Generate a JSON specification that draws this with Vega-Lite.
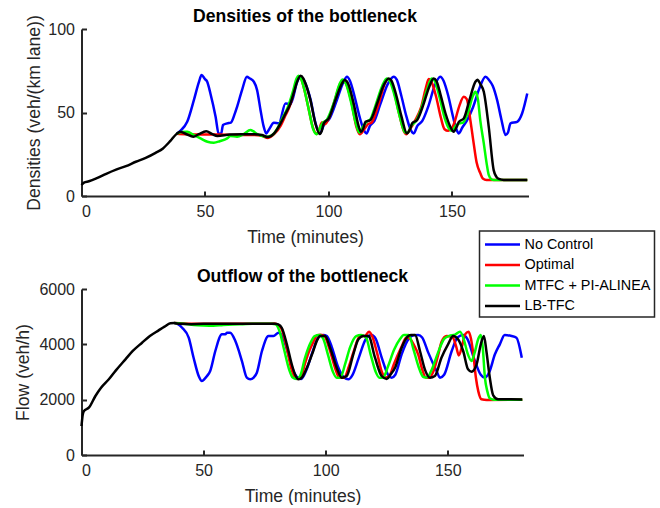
{
"$schema": "https://vega.github.io/schema/vega-lite/v6.json",
"padding": {"left": 14.5, "top": 8, "right": 0, "bottom": 0},
"datasets": {
"d": [
{"s":"N","t":38.5,"v":37.2},{"s":"N","t":40,"v":39},{"s":"N","t":42.8,"v":44.4},{"s":"N","t":45.5,"v":57.4},{"s":"N","t":47.5,"v":68},{"s":"N","t":48.6,"v":72.4},{"s":"N","t":50,"v":70},{"s":"N","t":50.9,"v":68.4},{"s":"N","t":52.2,"v":61.4},{"s":"N","t":54.3,"v":47.4},{"s":"N","t":55.5,"v":37.5},{"s":"N","t":56.5,"v":37},{"s":"N","t":57.3,"v":42.5},{"s":"N","t":59,"v":43.5},{"s":"N","t":60.5,"v":44},{"s":"N","t":62,"v":49},{"s":"N","t":63,"v":53.4},{"s":"N","t":65,"v":63.4},{"s":"N","t":67,"v":71.4},{"s":"N","t":68,"v":70.5},{"s":"N","t":69.8,"v":68.4},{"s":"N","t":71.1,"v":63.4},{"s":"N","t":72.5,"v":51.4},{"s":"N","t":73.7,"v":42},{"s":"N","t":74.8,"v":37.5},{"s":"N","t":76,"v":40},{"s":"N","t":77.9,"v":43.8},{"s":"N","t":79.9,"v":43.5},{"s":"N","t":82.6,"v":55.4},{"s":"N","t":84.6,"v":55},{"s":"N","t":87.5,"v":69},{"s":"N","t":88.7,"v":71.5},{"s":"N","t":90.5,"v":68},{"s":"N","t":92.7,"v":58},{"s":"N","t":94.7,"v":44},{"s":"N","t":96.5,"v":37.5},{"s":"N","t":98.3,"v":43},{"s":"N","t":100.3,"v":46},{"s":"N","t":103.3,"v":57},{"s":"N","t":106,"v":68},{"s":"N","t":107.5,"v":71.4},{"s":"N","t":108.7,"v":69},{"s":"N","t":110.5,"v":60},{"s":"N","t":112.5,"v":48},{"s":"N","t":114.2,"v":40},{"s":"N","t":115.4,"v":37.5},{"s":"N","t":116.8,"v":42},{"s":"N","t":118.6,"v":45},{"s":"N","t":121,"v":55},{"s":"N","t":124,"v":67},{"s":"N","t":126.4,"v":71.4},{"s":"N","t":127.7,"v":69.5},{"s":"N","t":129.5,"v":60},{"s":"N","t":131.5,"v":48},{"s":"N","t":133.2,"v":40},{"s":"N","t":134.5,"v":37.5},{"s":"N","t":136,"v":42},{"s":"N","t":138,"v":45},{"s":"N","t":140.5,"v":54},{"s":"N","t":143,"v":66},{"s":"N","t":145.3,"v":71.4},{"s":"N","t":146.6,"v":69},{"s":"N","t":148.5,"v":60},{"s":"N","t":150.5,"v":47},{"s":"N","t":151.8,"v":40},{"s":"N","t":152.8,"v":37.5},{"s":"N","t":154.2,"v":41},{"s":"N","t":156,"v":45},{"s":"N","t":158.5,"v":53},{"s":"N","t":161,"v":64},{"s":"N","t":163.6,"v":71.4},{"s":"N","t":165,"v":69.5},{"s":"N","t":166.5,"v":66},{"s":"N","t":168.3,"v":57.4},{"s":"N","t":170,"v":46},{"s":"N","t":171.7,"v":36.5},{"s":"N","t":172.7,"v":38},{"s":"N","t":173.7,"v":43.5},{"s":"N","t":176.4,"v":44.4},{"s":"N","t":178.4,"v":49.4},{"s":"N","t":180.5,"v":61.4},
{"s":"O","t":38.5,"v":37.2},{"s":"O","t":42,"v":37},{"s":"O","t":48,"v":36.8},{"s":"O","t":55,"v":36.8},{"s":"O","t":62,"v":36.5},{"s":"O","t":70,"v":36.5},{"s":"O","t":73,"v":36},{"s":"O","t":75.5,"v":34.8},{"s":"O","t":78,"v":37},{"s":"O","t":80.6,"v":42},{"s":"O","t":82.5,"v":48},{"s":"O","t":84.6,"v":55},{"s":"O","t":86.2,"v":64},{"s":"O","t":87.3,"v":69.5},{"s":"O","t":88,"v":71.5},{"s":"O","t":89,"v":70},{"s":"O","t":90.2,"v":64},{"s":"O","t":92,"v":52},{"s":"O","t":93.5,"v":42},{"s":"O","t":95.2,"v":37.2},{"s":"O","t":96.3,"v":40},{"s":"O","t":97.3,"v":44},{"s":"O","t":98.5,"v":43},{"s":"O","t":100,"v":46},{"s":"O","t":102.5,"v":57},{"s":"O","t":105,"v":68},{"s":"O","t":106,"v":69.5},{"s":"O","t":107.5,"v":66},{"s":"O","t":109.5,"v":55},{"s":"O","t":111.2,"v":42},{"s":"O","t":112.7,"v":37},{"s":"O","t":114.5,"v":40},{"s":"O","t":116,"v":43},{"s":"O","t":117.5,"v":44},{"s":"O","t":120.5,"v":56},{"s":"O","t":123,"v":68},{"s":"O","t":124,"v":70},{"s":"O","t":125,"v":69},{"s":"O","t":126.5,"v":63},{"s":"O","t":128.5,"v":50},{"s":"O","t":130.5,"v":39},{"s":"O","t":131.5,"v":37},{"s":"O","t":133,"v":40},{"s":"O","t":135,"v":45},{"s":"O","t":137.5,"v":53},{"s":"O","t":139.5,"v":65},{"s":"O","t":140.6,"v":70},{"s":"O","t":141.5,"v":69},{"s":"O","t":143.5,"v":60},{"s":"O","t":145.5,"v":47},{"s":"O","t":147,"v":40},{"s":"O","t":148.5,"v":39},{"s":"O","t":150,"v":40.5},{"s":"O","t":151,"v":44},{"s":"O","t":153,"v":54},{"s":"O","t":154.8,"v":59.4},{"s":"O","t":156,"v":58},{"s":"O","t":157.5,"v":45},{"s":"O","t":158.8,"v":31.5},{"s":"O","t":160,"v":20},{"s":"O","t":161.5,"v":13.6},{"s":"O","t":162.5,"v":10.5},{"s":"O","t":164,"v":9.6},{"s":"O","t":180.5,"v":9.6},
{"s":"M","t":38.5,"v":37.2},{"s":"M","t":40.5,"v":38.3},{"s":"M","t":42.8,"v":38.5},{"s":"M","t":45.5,"v":36.5},{"s":"M","t":48.2,"v":34.5},{"s":"M","t":51,"v":32.5},{"s":"M","t":53.6,"v":31.9},{"s":"M","t":56,"v":32.8},{"s":"M","t":59,"v":34.5},{"s":"M","t":60.3,"v":35.9},{"s":"M","t":63,"v":35.5},{"s":"M","t":65.7,"v":37.1},{"s":"M","t":68.4,"v":39.5},{"s":"M","t":69.5,"v":38.8},{"s":"M","t":71.1,"v":37.1},{"s":"M","t":74.5,"v":35.5},{"s":"M","t":77.2,"v":36.5},{"s":"M","t":79.5,"v":41},{"s":"M","t":81.5,"v":47},{"s":"M","t":83.5,"v":53},{"s":"M","t":85.5,"v":62},{"s":"M","t":87,"v":70},{"s":"M","t":87.8,"v":72},{"s":"M","t":88.8,"v":70.5},{"s":"M","t":90,"v":65},{"s":"M","t":92,"v":52},{"s":"M","t":93.8,"v":40},{"s":"M","t":95.2,"v":37},{"s":"M","t":96.3,"v":40},{"s":"M","t":97.5,"v":43.5},{"s":"M","t":99.5,"v":46},{"s":"M","t":102,"v":55},{"s":"M","t":104.5,"v":67},{"s":"M","t":105.7,"v":69.8},{"s":"M","t":107,"v":67.5},{"s":"M","t":109,"v":57},{"s":"M","t":111,"v":44},{"s":"M","t":112.5,"v":38},{"s":"M","t":114,"v":41.5},{"s":"M","t":115.5,"v":44.5},{"s":"M","t":117,"v":46},{"s":"M","t":119,"v":54},{"s":"M","t":121.8,"v":66},{"s":"M","t":123.6,"v":70.4},{"s":"M","t":124.8,"v":69},{"s":"M","t":126.8,"v":60},{"s":"M","t":128.8,"v":48},{"s":"M","t":131,"v":38},{"s":"M","t":132.2,"v":38},{"s":"M","t":133.5,"v":42},{"s":"M","t":135.5,"v":45},{"s":"M","t":137.5,"v":52},{"s":"M","t":140,"v":64},{"s":"M","t":141.8,"v":70.4},{"s":"M","t":143,"v":69},{"s":"M","t":145,"v":59},{"s":"M","t":147,"v":47},{"s":"M","t":149,"v":40},{"s":"M","t":150,"v":39},{"s":"M","t":151.5,"v":42},{"s":"M","t":153,"v":43.5},{"s":"M","t":154.5,"v":44},{"s":"M","t":156.5,"v":50},{"s":"M","t":158.5,"v":60},{"s":"M","t":159.5,"v":62.4},{"s":"M","t":160.5,"v":58},{"s":"M","t":161.5,"v":45},{"s":"M","t":162.9,"v":31.5},{"s":"M","t":164,"v":20},{"s":"M","t":164.9,"v":12.6},{"s":"M","t":166,"v":10},{"s":"M","t":167,"v":9.6},{"s":"M","t":180.5,"v":9.6},
{"s":"L","t":0,"v":6.6},{"s":"L","t":1,"v":8},{"s":"L","t":3,"v":8.8},{"s":"L","t":6,"v":10.5},{"s":"L","t":10,"v":13.3},{"s":"L","t":14,"v":15.8},{"s":"L","t":18,"v":17.9},{"s":"L","t":22,"v":20.5},{"s":"L","t":26,"v":22.8},{"s":"L","t":30,"v":25.8},{"s":"L","t":33,"v":28.5},{"s":"L","t":36,"v":33},{"s":"L","t":38.5,"v":37.2},{"s":"L","t":40,"v":38.5},{"s":"L","t":42.5,"v":37},{"s":"L","t":45.3,"v":35.5},{"s":"L","t":47.5,"v":37},{"s":"L","t":50.5,"v":38.8},{"s":"L","t":53,"v":37},{"s":"L","t":55,"v":36},{"s":"L","t":60,"v":36.8},{"s":"L","t":65,"v":37},{"s":"L","t":70,"v":37},{"s":"L","t":73,"v":36.5},{"s":"L","t":75.5,"v":35.3},{"s":"L","t":78,"v":37.5},{"s":"L","t":80.6,"v":43.5},{"s":"L","t":82.5,"v":49},{"s":"L","t":84.6,"v":55.4},{"s":"L","t":86,"v":62},{"s":"L","t":87.3,"v":68.4},{"s":"L","t":88.7,"v":72},{"s":"L","t":89.8,"v":70.5},{"s":"L","t":90.7,"v":67.4},{"s":"L","t":92.7,"v":57.4},{"s":"L","t":94.7,"v":43.5},{"s":"L","t":96.5,"v":37.1},{"s":"L","t":97.3,"v":39},{"s":"L","t":98.1,"v":43.5},{"s":"L","t":100.1,"v":46.5},{"s":"L","t":102.8,"v":57.4},{"s":"L","t":105.5,"v":67.4},{"s":"L","t":106.5,"v":69.4},{"s":"L","t":107.5,"v":68.5},{"s":"L","t":108.2,"v":66.4},{"s":"L","t":110.2,"v":55.4},{"s":"L","t":112.3,"v":41.4},{"s":"L","t":113.2,"v":38.5},{"s":"L","t":114,"v":40},{"s":"L","t":115,"v":44.4},{"s":"L","t":117,"v":45.5},{"s":"L","t":119.7,"v":55.4},{"s":"L","t":122.4,"v":66.4},{"s":"L","t":124.4,"v":70.4},{"s":"L","t":125.5,"v":69},{"s":"L","t":127.5,"v":60},{"s":"L","t":129.5,"v":48},{"s":"L","t":131.8,"v":37.5},{"s":"L","t":133,"v":40},{"s":"L","t":133.9,"v":43.5},{"s":"L","t":135.9,"v":45.5},{"s":"L","t":138.5,"v":55},{"s":"L","t":140.7,"v":65},{"s":"L","t":142.6,"v":70.4},{"s":"L","t":143.7,"v":69},{"s":"L","t":145.5,"v":60},{"s":"L","t":147.4,"v":49.4},{"s":"L","t":149.5,"v":41},{"s":"L","t":150.7,"v":38.5},{"s":"L","t":151.8,"v":41},{"s":"L","t":152.8,"v":44.4},{"s":"L","t":154.8,"v":46.5},{"s":"L","t":157,"v":57},{"s":"L","t":159.5,"v":68.4},{"s":"L","t":160.3,"v":69.6},{"s":"L","t":161.5,"v":67},{"s":"L","t":162.9,"v":62.4},{"s":"L","t":164.9,"v":41.4},{"s":"L","t":166.9,"v":15.5},{"s":"L","t":168,"v":11.5},{"s":"L","t":169,"v":10.2},{"s":"L","t":171,"v":9.6},{"s":"L","t":180.5,"v":9.6}
],
"f": [
{"s":"N","t":38,"v":4770},{"s":"N","t":39.5,"v":4730},{"s":"N","t":41.2,"v":4600},{"s":"N","t":43.9,"v":4240},{"s":"N","t":45.9,"v":3517},{"s":"N","t":48,"v":2855},{"s":"N","t":49.3,"v":2674},{"s":"N","t":50.5,"v":2760},{"s":"N","t":51.4,"v":2855},{"s":"N","t":52.7,"v":3036},{"s":"N","t":54.8,"v":3759},{"s":"N","t":57.5,"v":4362},{"s":"N","t":58.9,"v":4362},{"s":"N","t":59.6,"v":4420},{"s":"N","t":60.9,"v":4420},{"s":"N","t":63,"v":4120},{"s":"N","t":65.7,"v":3397},{"s":"N","t":67.7,"v":2794},{"s":"N","t":69.1,"v":2736},{"s":"N","t":70.5,"v":2800},{"s":"N","t":71.8,"v":2974},{"s":"N","t":73.9,"v":3759},{"s":"N","t":76.6,"v":4300},{"s":"N","t":78.6,"v":4300},{"s":"N","t":80.7,"v":4420},{"s":"N","t":82.5,"v":4250},{"s":"N","t":84.5,"v":3700},{"s":"N","t":86.5,"v":3100},{"s":"N","t":88.5,"v":2800},{"s":"N","t":90,"v":2750},{"s":"N","t":92,"v":3050},{"s":"N","t":94.5,"v":3700},{"s":"N","t":97,"v":4250},{"s":"N","t":99,"v":4340},{"s":"N","t":100.5,"v":4300},{"s":"N","t":102.5,"v":3900},{"s":"N","t":105,"v":3200},{"s":"N","t":107.5,"v":2800},{"s":"N","t":109.3,"v":2736},{"s":"N","t":111,"v":2900},{"s":"N","t":113.5,"v":3500},{"s":"N","t":116.5,"v":4200},{"s":"N","t":118.8,"v":4340},{"s":"N","t":120.5,"v":4200},{"s":"N","t":123,"v":3500},{"s":"N","t":125.5,"v":2900},{"s":"N","t":127,"v":2794},{"s":"N","t":128.5,"v":2900},{"s":"N","t":131.1,"v":3639},{"s":"N","t":134,"v":4200},{"s":"N","t":136,"v":4330},{"s":"N","t":137.9,"v":4337},{"s":"N","t":139.5,"v":4250},{"s":"N","t":142,"v":3700},{"s":"N","t":145.4,"v":3036},{"s":"N","t":146.8,"v":2794},{"s":"N","t":148.5,"v":2900},{"s":"N","t":151.6,"v":3759},{"s":"N","t":154,"v":4250},{"s":"N","t":156.3,"v":4337},{"s":"N","t":158,"v":4200},{"s":"N","t":161.1,"v":3397},{"s":"N","t":163.5,"v":2900},{"s":"N","t":165.2,"v":2794},{"s":"N","t":167,"v":3000},{"s":"N","t":169.3,"v":3639},{"s":"N","t":171.3,"v":4000},{"s":"N","t":173.3,"v":4337},{"s":"N","t":176.1,"v":4300},{"s":"N","t":178.1,"v":4240},{"s":"N","t":180.3,"v":3517},
{"s":"O","t":38,"v":4770},{"s":"O","t":45,"v":4740},{"s":"O","t":55,"v":4740},{"s":"O","t":65,"v":4740},{"s":"O","t":75,"v":4740},{"s":"O","t":79,"v":4750},{"s":"O","t":80.5,"v":4700},{"s":"O","t":82,"v":4550},{"s":"O","t":84,"v":3900},{"s":"O","t":86,"v":3100},{"s":"O","t":87.5,"v":2800},{"s":"O","t":88.5,"v":2750},{"s":"O","t":90,"v":2850},{"s":"O","t":91.5,"v":3300},{"s":"O","t":93,"v":3700},{"s":"O","t":95,"v":4100},{"s":"O","t":96.5,"v":4330},{"s":"O","t":98,"v":4350},{"s":"O","t":99.5,"v":4300},{"s":"O","t":101.5,"v":3850},{"s":"O","t":104,"v":3100},{"s":"O","t":105.5,"v":2800},{"s":"O","t":107.5,"v":2790},{"s":"O","t":109.5,"v":3200},{"s":"O","t":111.5,"v":3750},{"s":"O","t":114,"v":4300},{"s":"O","t":116,"v":4300},{"s":"O","t":117.7,"v":4456},{"s":"O","t":119,"v":4300},{"s":"O","t":121,"v":3700},{"s":"O","t":123,"v":3000},{"s":"O","t":124.5,"v":2800},{"s":"O","t":126,"v":2850},{"s":"O","t":128,"v":3300},{"s":"O","t":131,"v":3900},{"s":"O","t":133,"v":4250},{"s":"O","t":134.5,"v":4200},{"s":"O","t":136,"v":4000},{"s":"O","t":138,"v":3600},{"s":"O","t":139.5,"v":3100},{"s":"O","t":141,"v":2800},{"s":"O","t":142.5,"v":2790},{"s":"O","t":144,"v":3000},{"s":"O","t":146,"v":3600},{"s":"O","t":147.5,"v":4100},{"s":"O","t":149.5,"v":4300},{"s":"O","t":152,"v":4250},{"s":"O","t":153.5,"v":3900},{"s":"O","t":154.5,"v":3600},{"s":"O","t":156,"v":4000},{"s":"O","t":157,"v":4350},{"s":"O","t":158.5,"v":4456},{"s":"O","t":159.5,"v":4200},{"s":"O","t":160.5,"v":3600},{"s":"O","t":161.5,"v":2800},{"s":"O","t":162.5,"v":2300},{"s":"O","t":163.8,"v":2013},{"s":"O","t":166,"v":1990},{"s":"O","t":180.5,"v":2000},
{"s":"M","t":38,"v":4770},{"s":"M","t":42,"v":4740},{"s":"M","t":46,"v":4700},{"s":"M","t":50,"v":4680},{"s":"M","t":54,"v":4670},{"s":"M","t":58,"v":4700},{"s":"M","t":62,"v":4720},{"s":"M","t":66,"v":4730},{"s":"M","t":70,"v":4740},{"s":"M","t":74,"v":4740},{"s":"M","t":78,"v":4745},{"s":"M","t":79.5,"v":4720},{"s":"M","t":81,"v":4500},{"s":"M","t":83,"v":3800},{"s":"M","t":85,"v":3100},{"s":"M","t":86.5,"v":2800},{"s":"M","t":88,"v":2750},{"s":"M","t":89.5,"v":2850},{"s":"M","t":91.5,"v":3500},{"s":"M","t":93.5,"v":4000},{"s":"M","t":95.5,"v":4300},{"s":"M","t":97.5,"v":4340},{"s":"M","t":99,"v":4200},{"s":"M","t":101,"v":3600},{"s":"M","t":103,"v":3000},{"s":"M","t":104.5,"v":2790},{"s":"M","t":106,"v":2800},{"s":"M","t":108,"v":3300},{"s":"M","t":110,"v":3900},{"s":"M","t":112.5,"v":4300},{"s":"M","t":114.5,"v":4340},{"s":"M","t":116.5,"v":4250},{"s":"M","t":118.5,"v":3600},{"s":"M","t":120.5,"v":3000},{"s":"M","t":122,"v":2790},{"s":"M","t":123.5,"v":2800},{"s":"M","t":125.5,"v":3200},{"s":"M","t":128,"v":3800},{"s":"M","t":130.5,"v":4200},{"s":"M","t":132,"v":4340},{"s":"M","t":134,"v":4340},{"s":"M","t":136,"v":3800},{"s":"M","t":138,"v":3200},{"s":"M","t":140,"v":2820},{"s":"M","t":141.5,"v":2800},{"s":"M","t":143.5,"v":3100},{"s":"M","t":146,"v":3700},{"s":"M","t":148.5,"v":4200},{"s":"M","t":150.5,"v":4300},{"s":"M","t":153,"v":4350},{"s":"M","t":155,"v":4456},{"s":"M","t":156.5,"v":4200},{"s":"M","t":158,"v":3700},{"s":"M","t":159.7,"v":3397},{"s":"M","t":161,"v":3700},{"s":"M","t":162.5,"v":4200},{"s":"M","t":163.5,"v":4337},{"s":"M","t":164.3,"v":3900},{"s":"M","t":165.2,"v":2794},{"s":"M","t":166.2,"v":2300},{"s":"M","t":167.2,"v":2049},{"s":"M","t":169,"v":2000},{"s":"M","t":180.5,"v":2000},
{"s":"L","t":0,"v":1048},{"s":"L","t":0.5,"v":1450},{"s":"L","t":1,"v":1590},{"s":"L","t":3,"v":1710},{"s":"L","t":5.7,"v":2132},{"s":"L","t":8,"v":2430},{"s":"L","t":11.2,"v":2736},{"s":"L","t":14,"v":3050},{"s":"L","t":18,"v":3458},{"s":"L","t":21,"v":3760},{"s":"L","t":24.8,"v":4059},{"s":"L","t":28,"v":4300},{"s":"L","t":31.6,"v":4506},{"s":"L","t":34,"v":4640},{"s":"L","t":36.4,"v":4760},{"s":"L","t":38,"v":4770},{"s":"L","t":40,"v":4740},{"s":"L","t":45,"v":4730},{"s":"L","t":50,"v":4740},{"s":"L","t":55,"v":4740},{"s":"L","t":60,"v":4745},{"s":"L","t":65,"v":4745},{"s":"L","t":70,"v":4740},{"s":"L","t":75,"v":4745},{"s":"L","t":79.3,"v":4745},{"s":"L","t":80.5,"v":4720},{"s":"L","t":82,"v":4600},{"s":"L","t":84.1,"v":4000},{"s":"L","t":86.1,"v":3278},{"s":"L","t":87.5,"v":2900},{"s":"L","t":88.9,"v":2736},{"s":"L","t":90.2,"v":2794},{"s":"L","t":92.3,"v":3155},{"s":"L","t":94.9,"v":3759},{"s":"L","t":96.5,"v":4150},{"s":"L","t":97.7,"v":4300},{"s":"L","t":99.7,"v":4300},{"s":"L","t":101.8,"v":3878},{"s":"L","t":104.5,"v":3155},{"s":"L","t":106.6,"v":2794},{"s":"L","t":108.6,"v":2855},{"s":"L","t":111.3,"v":3639},{"s":"L","t":113.4,"v":4181},{"s":"L","t":115.4,"v":4300},{"s":"L","t":117.5,"v":4300},{"s":"L","t":120.2,"v":3517},{"s":"L","t":122.9,"v":2855},{"s":"L","t":125,"v":2750},{"s":"L","t":126.5,"v":2900},{"s":"L","t":128.4,"v":3155},{"s":"L","t":131.1,"v":3878},{"s":"L","t":133.8,"v":4300},{"s":"L","t":135,"v":4340},{"s":"L","t":136.6,"v":4337},{"s":"L","t":138.6,"v":3759},{"s":"L","t":140.6,"v":3097},{"s":"L","t":142.7,"v":2794},{"s":"L","t":144.7,"v":2855},{"s":"L","t":147.4,"v":3517},{"s":"L","t":150.1,"v":4000},{"s":"L","t":152.2,"v":4300},{"s":"L","t":154.2,"v":4181},{"s":"L","t":156.3,"v":3759},{"s":"L","t":158.3,"v":3097},{"s":"L","t":159.7,"v":3012},{"s":"L","t":161.8,"v":3278},{"s":"L","t":163.5,"v":4000},{"s":"L","t":164.8,"v":4300},{"s":"L","t":165.8,"v":3759},{"s":"L","t":167.2,"v":2794},{"s":"L","t":168.6,"v":2156},{"s":"L","t":170.6,"v":2013},{"s":"L","t":180.5,"v":2010}
]
},
"config": {
"font": "Liberation Sans",
"view": {"stroke": null},
"axis": {"grid": false, "domainColor": "#262626", "domainWidth": 2, "tickColor": "#262626", "tickWidth": 2, "tickSize": -5, "labelPadding": 12, "labelColor": "#262626", "labelFontSize": 16, "titleColor": "#262626", "titleFontSize": 17.6, "titleFontWeight": "normal"},
"axisX": {"titlePadding": 9},
"axisY": {"titlePadding": 6},
"title": {"fontSize": 17.6, "fontWeight": "bold", "color": "#000000"},
"legend": {"orient": "none", "legendX": 398, "legendY": 202, "strokeColor": "#262626", "strokeWidth": 1.5, "fillColor": "#ffffff", "padding": 4, "labelFontSize": 14.4, "labelColor": "#000000", "symbolType": "M-1,0H3.375", "symbolSize": 256, "symbolStrokeWidth": 2.5, "labelOffset": 22, "rowPadding": 4.5, "labelLimit": 0}
},
"spacing": 22,
"vconcat": [
{
"width": 447, "height": 167,
"title": {"text": "Densities of the bottleneck", "offset": -11},
"data": {"name": "d"},
"mark": {"type": "line", "strokeWidth": 2.5, "interpolate": "monotone"},
"encoding": {
"x": {"field": "t", "type": "quantitative", "scale": {"domain": [0, 181], "nice": false, "zero": false}, "axis": {"values": [0, 50, 100, 150], "title": "Time (minutes)"}},
"y": {"field": "v", "type": "quantitative", "scale": {"domain": [0, 100], "nice": false}, "axis": {"values": [0, 50, 100], "title": "Densities (veh/(km lane))", "titlePadding": 4}},
"color": {"field": "s", "type": "nominal", "scale": {"domain": ["N", "O", "M", "L"], "range": ["#0000ff", "#ff0000", "#00ff00", "#000000"]}, "legend": {"title": null, "labelExpr": "datum.label == 'N' ? 'No Control' : datum.label == 'O' ? 'Optimal' : datum.label == 'M' ? 'MTFC + PI-ALINEA' : 'LB-TFC'"}}
}
},
{
"width": 442, "height": 166,
"title": {"text": "Outflow of the bottleneck", "offset": -5},
"data": {"name": "f"},
"mark": {"type": "line", "strokeWidth": 2.5, "interpolate": "monotone"},
"encoding": {
"x": {"field": "t", "type": "quantitative", "scale": {"domain": [0, 181], "nice": false, "zero": false}, "axis": {"values": [0, 50, 100, 150], "title": "Time (minutes)"}},
"y": {"field": "v", "type": "quantitative", "scale": {"domain": [0, 6000], "nice": false}, "axis": {"values": [0, 2000, 4000, 6000], "title": "Flow (veh/h)", "format": "d"}},
"color": {"field": "s", "type": "nominal", "scale": {"domain": ["N", "O", "M", "L"], "range": ["#0000ff", "#ff0000", "#00ff00", "#000000"]}, "legend": {"title": null, "labelExpr": "datum.label == 'N' ? 'No Control' : datum.label == 'O' ? 'Optimal' : datum.label == 'M' ? 'MTFC + PI-ALINEA' : 'LB-TFC'"}}
}
}
]
}
